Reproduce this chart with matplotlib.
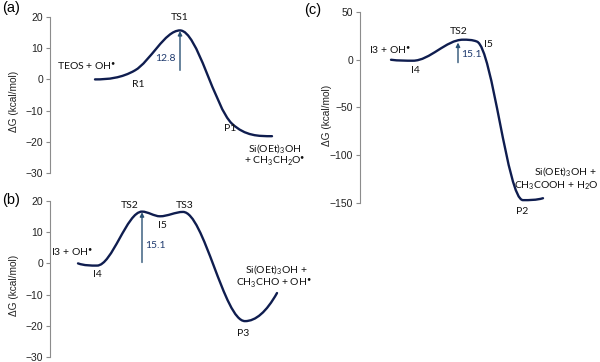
import numpy as np
import matplotlib
matplotlib.use("Agg")
import matplotlib.pyplot as plt
from matplotlib.path import Path
from matplotlib.patches import PathPatch

plt.rcParams['font.family'] = ['Liberation Sans', 'DejaVu Sans']
plt.rcParams['mathtext.fontset'] = 'custom'
plt.rcParams['mathtext.rm'] = 'Lato'
plt.rcParams['mathtext.it'] = 'Lato:italic'
plt.rcParams['mathtext.bf'] = 'Lato:bold'
plt.rcParams['mathtext.default'] = 'regular'

# reaction coordinate (arbitrary units) and free energy (kcal/mol) at each point
a_x = [45, 85, 130, 182, 222]
a_g = [0, 2.9, 15.7, -14.2, -18.2]

b_x = [28, 47, 92, 110, 133, 195, 227]
b_g = [0, -0.7, 16.6, 15.1, 16.5, -18.5, -9.5]

c_x = [31, 53, 103, 117, 163, 183]
c_g = [0, -1, 21, 19, -147, -145]

# barriers: (x, from, to, label)
a_bar = (130, 2.9, 15.5, "12.8")
b_bar = (92, 0.3, 16.4, "15.1")
c_bar = (98, -3, 18, "15.1")

CURVE = '#0f1d4f'
ARROW = '#2b5275'
NUMC = '#1f3a6e'
LFONT = 'Lato'
LSIZE = 7.5
DOT = '$^{\u2022}$'


def slopes(x, y):
    # centred slopes, flat at turning points, limited so there is no overshoot
    x = np.asarray(x, float)
    y = np.asarray(y, float)
    h = np.diff(x)
    d = np.diff(y) / h
    n = len(x)
    m = np.zeros(n)
    for k in range(1, n - 1):
        if d[k - 1] * d[k] > 0:
            c = (y[k + 1] - y[k - 1]) / (x[k + 1] - x[k - 1])
            lim = 3 * min(abs(d[k - 1]), abs(d[k]))
            m[k] = np.sign(c) * min(abs(c), lim)
    for k, (h0, h1, d0, d1) in [(0, (h[0], h[1], d[0], d[1])), (n - 1, (h[-1], h[-2], d[-1], d[-2]))]:
        e = ((2 * h0 + h1) * d0 - h0 * d1) / (h0 + h1)
        if np.sign(e) != np.sign(d0):
            e = 0.0
        elif np.sign(d0) != np.sign(d1) and abs(e) > 3 * abs(d0):
            e = 3 * d0
        m[k] = e
    return m


def smooth_path(xs, ys):
    m = slopes(xs, ys)
    verts = [(xs[0], ys[0])]
    codes = [Path.MOVETO]
    for i in range(len(xs) - 1):
        dx = (xs[i + 1] - xs[i]) / 3.0
        verts += [(xs[i] + dx, ys[i] + m[i] * dx),
                  (xs[i + 1] - dx, ys[i + 1] - m[i + 1] * dx),
                  (xs[i + 1], ys[i + 1])]
        codes += [Path.CURVE4] * 3
    return Path(verts, codes)


def style_axis(ax, ylim, yticks, labx):
    ax.set_ylim(*ylim)
    ax.set_yticks(yticks)
    for s in ['top', 'right', 'bottom']:
        ax.spines[s].set_visible(False)
    ax.spines['left'].set_color('#8c8c8c')
    ax.spines['left'].set_linewidth(0.8)
    ax.set_xticks([])
    ax.tick_params(axis='y', direction='out', length=3, width=0.8, color='#8c8c8c',
                   labelsize=7.5, labelcolor='#222222', pad=2)
    ax.set_ylabel("ΔG (kcal/mol)", fontsize=7.3, color='#222222')
    ax.yaxis.set_label_coords(labx, 0.46)
    ax.patch.set_visible(False)


def draw(ax, xs, gs, bar):
    ax.add_patch(PathPatch(smooth_path(xs, gs), fill=False, edgecolor=CURVE, lw=1.7,
                           capstyle='round'))
    x, g0, g1, txt = bar
    ax.annotate("", xy=(x, g1), xytext=(x, g0),
                arrowprops=dict(arrowstyle='-|>', color=ARROW, lw=1.0,
                                mutation_scale=6, shrinkA=0, shrinkB=0))
    return txt


def lab(ax, x, y, s, ha='center', color='#111111', size=LSIZE):
    ax.text(x, y, s, ha=ha, va='center', fontsize=size, family=LFONT, color=color)


fig = plt.figure(figsize=(6.0, 3.62), dpi=100)
W, H = 600.0, 362.0

# (a)
ax1 = fig.add_axes([50 / W, 1 - 173 / H, 250 / W, (173 - 17) / H])
ax1.set_xlim(0, 250)
style_axis(ax1, (-30, 20), [-30, -20, -10, 0, 10, 20], -31 / 250)
t = draw(ax1, a_x, a_g, a_bar)
lab(ax1, 126, 6.7, t, ha='right', color=NUMC)
lab(ax1, 37, 4.2, "TEOS + OH" + DOT)
lab(ax1, 88, -1.6, "R1")
lab(ax1, 130, 19.8, "TS1")
lab(ax1, 180, -15.6, "P1")
lab(ax1, 225, -22.0, r"Si(OEt)$_3$OH")
lab(ax1, 225, -26.3, r"+ CH$_3$CH$_2$O" + DOT)
fig.text(2 / W, 1 - 8 / H, "(a)", fontsize=10.5, va='center', ha='left')

# (b)
ax2 = fig.add_axes([50 / W, 1 - 357 / H, 250 / W, (357 - 201) / H])
ax2.set_xlim(0, 250)
style_axis(ax2, (-30, 20), [-30, -20, -10, 0, 10, 20], -31 / 250)
t = draw(ax2, b_x, b_g, b_bar)
lab(ax2, 95, 5.7, t, ha='left', color=NUMC)
lab(ax2, 22, 3.5, "I3 + OH" + DOT)
lab(ax2, 47, -3.4, "I4")
lab(ax2, 80, 18.6, "TS2")
lab(ax2, 112, 12.0, "I5")
lab(ax2, 135, 18.6, "TS3")
lab(ax2, 193, -22.4, "P3")
lab(ax2, 226, -1.8, r"Si(OEt)$_3$OH +")
lab(ax2, 224, -6.3, r"CH$_3$CHO + OH" + DOT)
fig.text(2 / W, 1 - 200 / H, "(b)", fontsize=10.5, va='center', ha='left')

# (c)
ax3 = fig.add_axes([360 / W, 1 - 203 / H, 240 / W, (203 - 12) / H])
ax3.set_xlim(0, 240)
style_axis(ax3, (-150, 50), [-150, -100, -50, 0, 50], -28 / 240)
t = draw(ax3, c_x, c_g, c_bar)
lab(ax3, 101, 5.0, t, ha='left', color=NUMC)
lab(ax3, 30, 10.4, "I3 + OH" + DOT)
lab(ax3, 55, -11.5, "I4")
lab(ax3, 99, 29.5, "TS2")
lab(ax3, 128, 15.6, "I5")
lab(ax3, 162, -159, "P2")
lab(ax3, 205, -117, r"Si(OEt)$_3$OH +")
lab(ax3, 196, -132, r"CH$_3$COOH + H$_2$O")
fig.text(304 / W, 1 - 10 / H, "(c)", fontsize=10.5, va='center', ha='left')

fig.savefig("out.png", dpi=100, facecolor='white')
